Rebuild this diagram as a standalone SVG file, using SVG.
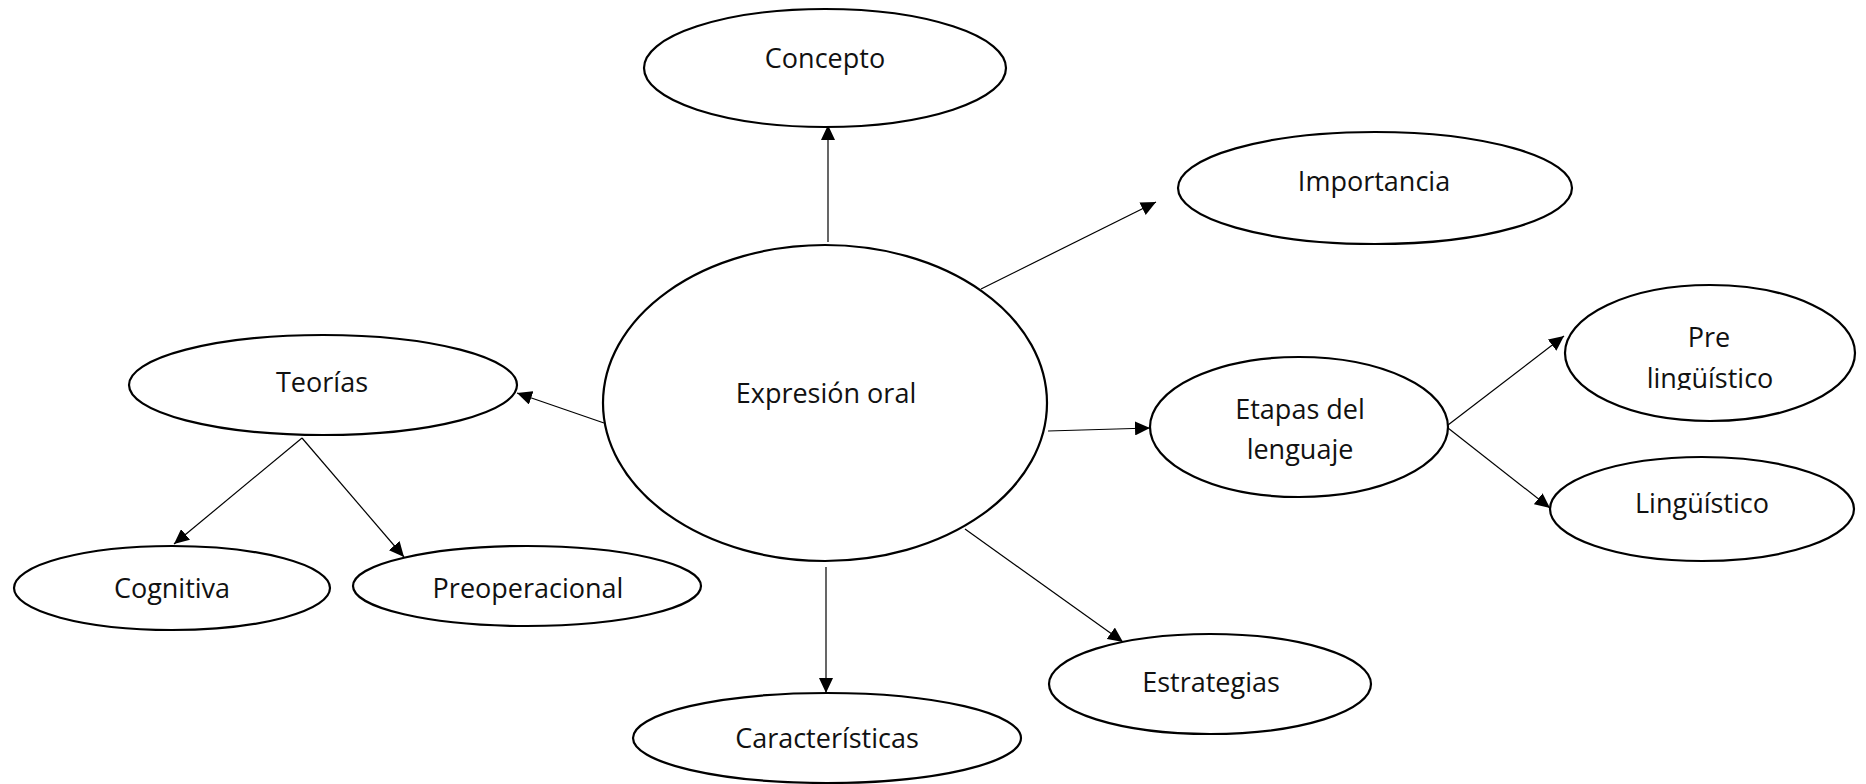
<svg xmlns="http://www.w3.org/2000/svg" width="1866" height="784" viewBox="0 0 1866 784">
<style>
.node ellipse{fill:#fff;stroke:#000;stroke-width:2.2}
.node text{font-family:"Open Sans","Noto Sans",sans-serif;font-size:27px;fill:#111;text-anchor:middle}
.conn line{stroke:#000;stroke-width:1.2;marker-end:url(#ah)}
</style>
<defs>
<marker id="ah" markerUnits="userSpaceOnUse" markerWidth="16" markerHeight="14" refX="15" refY="7" orient="auto">
<path d="M0,0 L15,7 L0,14 Z" fill="#000"/>
</marker>
<clipPath id="clipPre"><rect x="1560" y="280" width="300" height="110"/></clipPath>
</defs>
<rect width="1866" height="784" fill="#fff"/>
<g id="connectors" class="conn">
<line x1="828" y1="242" x2="828" y2="125"/>
<line x1="981" y1="289" x2="1156" y2="202"/>
<line x1="1048" y1="431" x2="1150" y2="428"/>
<line x1="965" y1="529" x2="1123" y2="642"/>
<line x1="826" y1="567" x2="826" y2="693"/>
<line x1="604" y1="423" x2="517" y2="393"/>
<line x1="302" y1="438" x2="174" y2="544"/>
<line x1="302" y1="438" x2="404" y2="557"/>
<line x1="1448" y1="425" x2="1564" y2="336"/>
<line x1="1448" y1="428" x2="1550" y2="508"/>
</g>
<g id="concepto" class="node"><ellipse cx="825" cy="68" rx="181" ry="59"/><text x="825" y="68">Concepto</text></g>
<g id="importancia" class="node"><ellipse cx="1375" cy="188" rx="197" ry="56"/><text x="1374" y="191">Importancia</text></g>
<g id="expresion" class="node"><ellipse cx="825" cy="403" rx="222" ry="158"/><text x="826" y="403">Expresión oral</text></g>
<g id="teorias" class="node"><ellipse cx="323" cy="385" rx="194" ry="50"/><text x="322" y="392">Teorías</text></g>
<g id="etapas" class="node"><ellipse cx="1299" cy="427" rx="149" ry="70"/><text x="1300" y="419">Etapas del</text><text x="1300" y="459">lenguaje</text></g>
<g id="prelinguistico" class="node"><ellipse cx="1710" cy="353" rx="145" ry="68"/><text x="1709" y="347">Pre</text><text x="1710" y="388" clip-path="url(#clipPre)">lingüístico</text></g>
<g id="linguistico" class="node"><ellipse cx="1702" cy="509" rx="152" ry="52"/><text x="1702" y="513">Lingüístico</text></g>
<g id="cognitiva" class="node"><ellipse cx="172" cy="588" rx="158" ry="42"/><text x="172" y="598">Cognitiva</text></g>
<g id="preoperacional" class="node"><ellipse cx="527" cy="586" rx="174" ry="40"/><text x="528" y="598">Preoperacional</text></g>
<g id="caracteristicas" class="node"><ellipse cx="827" cy="738" rx="194" ry="45"/><text x="827" y="748">Características</text></g>
<g id="estrategias" class="node"><ellipse cx="1210" cy="684" rx="161" ry="50"/><text x="1211" y="692">Estrategias</text></g>
</svg>
